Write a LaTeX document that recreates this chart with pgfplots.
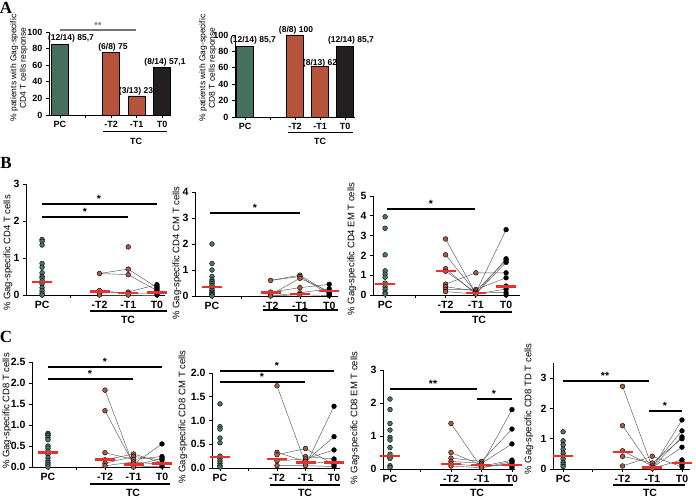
\documentclass[border=0pt]{standalone}
\usepackage{fontspec}
\setmainfont{Liberation Sans}
\newfontfamily\letterfont{Liberation Serif}
\usepackage{pgfplots}
\pgfplotsset{compat=1.18}

\definecolor{pcg}{HTML}{4B7565}
\definecolor{tcb}{HTML}{A85A45}
\definecolor{barg}{HTML}{456F5F}
\definecolor{baro}{HTML}{B5533B}
\definecolor{bark}{HTML}{231F20}
\definecolor{medr}{HTML}{E8302C}

\pgfplotsset{
  base/.style={scale only axis, anchor=south west, axis lines=left,
    axis line style={-, line width=0.9pt}, tick align=outside, tick pos=left,
    major tick length=3pt, tick style={black, line width=0.8pt},
    xtick={0,1,2,3,4}, xticklabels={PC,,-T2,-T1,T0}, ymin=0, clip=false,
    /pgf/number format/assume math mode=true},
  scat/.style={base, tick label style={font=\fontsize{10.5}{11}\selectfont\bfseries}},
  onedec/.style={yticklabel style={/pgf/number format/.cd, fixed, fixed zerofill, precision=1}},
  pc/.style={only marks, mark=*, mark size=2.4pt, mark options={draw=none, fill=pcg}},
  tc/.style={only marks, mark=*, mark size=2.4pt, mark options={draw=none, fill=tcb}},
  tz/.style={only marks, mark=*, mark size=2.4pt, mark options={draw=none, fill=black}},
  med/.style={only marks, mark=-, mark size=10pt, mark options={draw=medr, line width=2.4pt}},
  pl/.style={black!65, line width=0.45pt, mark=none},
}

\begin{document}
\begin{tikzpicture}
\useasboundingbox (0,0) rectangle (696pt,499pt);

% ---------- A left: CD4 response
\begin{axis}[base, tick label style={font=\fontsize{9}{10}\selectfont\bfseries},
  at={(49pt,384pt)}, width=121pt, height=83pt, xmin=-0.43, xmax=4.31,
  ymax=100, ytick={0,20,...,100}, ybar, bar width=17pt, bar shift=0pt]
\addplot[fill=barg, draw=black, line width=0.5pt] coordinates {(0,85.7)};
\addplot[fill=baro, draw=black, line width=0.5pt] coordinates {(2,75) (3,23)};
\addplot[fill=bark, draw=black, line width=0.5pt] coordinates {(4,57.1)};
\end{axis}

% ---------- A right: CD8 response
\begin{axis}[base, tick label style={font=\fontsize{9}{10}\selectfont\bfseries},
  at={(235pt,382pt)}, width=120pt, height=82pt, xmin=-0.4, xmax=4.4,
  ymax=100, ytick={0,20,...,100}, ybar, bar width=17pt, bar shift=0pt]
\addplot[fill=barg, draw=black, line width=0.5pt] coordinates {(0,85.7)};
\addplot[fill=baro, draw=black, line width=0.5pt] coordinates {(2,100) (3,62)};
\addplot[fill=bark, draw=black, line width=0.5pt] coordinates {(4,85.7)};
\end{axis}

% ---------- B1: CD4 T cells
\begin{axis}[scat, at={(26pt,204pt)}, width=139pt, height=111pt,
  xmin=-0.56, xmax=4.28, ymax=3, ytick={0,1,2,3}]
\addplot[pl] coordinates {(2,0.58) (3,0.7) (4,0.2)};
\addplot[pl] coordinates {(2,0.58) (3,0.55) (4,0.12)};
\addplot[pl] coordinates {(2,0.12) (3,0.04) (4,0.04)};
\addplot[pl] coordinates {(2,0.05) (3,0.08) (4,0.28)};
\addplot[pl] coordinates {(2,0) (3,0) (4,0)};
\addplot[pc] coordinates {(0,1.5)(0,1.45)(0,1.35)(0,0.85)(0,0.75)(0,0.6)(0,0.5)(0,0.45)(0,0.38)(0,0.3)(0,0.2)(0,0.12)(0,0.05)(0,0)};
\addplot[tc] coordinates {(2,0.58)(2,0.12)(2,0.05)(2,0)(3,1.3)(3,0.7)(3,0.55)(3,0.08)(3,0.04)(3,0)};
\addplot[tz] coordinates {(4,0.28)(4,0.24)(4,0.2)(4,0.16)(4,0.12)(4,0.08)(4,0.04)(4,0)};
\addplot[med] coordinates {(0,0.35)(2,0.1)(3,0.05)(4,0.07)};
\end{axis}

% ---------- B2: CD4 CM T cells
\begin{axis}[scat, at={(195pt,203pt)}, width=143pt, height=104pt,
  xmin=-0.58, xmax=4.3, ymax=4, ytick={0,1,2,3,4}]
\addplot[pl] coordinates {(2,0.6) (3,0.8) (4,0.12)};
\addplot[pl] coordinates {(2,0.6) (3,0.75) (4,0.06)};
\addplot[pl] coordinates {(2,0.15) (3,0.32) (4,0.45)};
\addplot[pl] coordinates {(2,0.05) (3,0.68) (4,0.18)};
\addplot[pl] coordinates {(2,0) (3,0.12) (4,0.28)};
\addplot[pl] coordinates {(2,0) (3,0.05) (4,0.02)};
\addplot[pc] coordinates {(0,2.0)(0,1.25)(0,1.0)(0,0.75)(0,0.62)(0,0.55)(0,0.48)(0,0.4)(0,0.3)(0,0.22)(0,0.15)(0,0.1)(0,0.05)(0,0)};
\addplot[tc] coordinates {(2,0.6)(2,0.15)(2,0.05)(2,0)(3,0.8)(3,0.75)(3,0.68)(3,0.32)(3,0.12)(3,0.05)};
\addplot[tz] coordinates {(4,0.45)(4,0.28)(4,0.18)(4,0.12)(4,0.06)(4,0.02)};
\addplot[med] coordinates {(0,0.35)(2,0.13)(3,0.08)(4,0.2)};
\end{axis}

% ---------- B3: CD4 EM T cells
\begin{axis}[scat, at={(373pt,204pt)}, width=147pt, height=99pt,
  xmin=-0.4, xmax=4.46, ymax=5, ytick={0,1,2,3,4,5}]
\addplot[pl] coordinates {(2,2.83) (3,0.07) (4,1.83)};
\addplot[pl] coordinates {(2,2.03) (3,0.13) (4,3.3)};
\addplot[pl] coordinates {(2,1.33) (3,0.05) (4,1.65)};
\addplot[pl] coordinates {(2,0.55) (3,1.12) (4,1.12)};
\addplot[pl] coordinates {(2,0.42) (3,0.2) (4,1.75)};
\addplot[pl] coordinates {(2,0.28) (3,0.28) (4,0.87)};
\addplot[pl] coordinates {(2,0.17) (3,0.05) (4,0.3)};
\addplot[pl] coordinates {(2,1.2) (3,0.13) (4,0.12)};
\addplot[pc] coordinates {(0,3.95)(0,3.37)(0,2.03)(0,1.22)(0,1.05)(0,0.9)(0,0.6)(0,0.42)(0,0.28)(0,0.12)(0,0.05)};
\addplot[tc] coordinates {(2,2.83)(2,2.03)(2,1.33)(2,1.2)(2,0.55)(2,0.42)(2,0.28)(2,0.17)(3,1.12)(3,0.28)(3,0.2)(3,0.13)(3,0.07)(3,0.05)};
\addplot[tz] coordinates {(4,3.3)(4,1.83)(4,1.75)(4,1.65)(4,1.12)(4,0.87)(4,0.45)(4,0.3)(4,0.12)(4,0)};
\addplot[med] coordinates {(0,0.55)(2,1.2)(3,0.1)(4,0.42)};
\end{axis}

% ---------- C1: CD8 T cells
\begin{axis}[scat, onedec, at={(32pt,32pt)}, width=138pt, height=105pt,
  xmin=-0.56, xmax=4.28, ymax=2.5, ytick={0,0.5,1,1.5,2,2.5}]
\addplot[pl] coordinates {(2,1.83) (3,0.03) (4,0.21)};
\addplot[pl] coordinates {(2,1.34) (3,0.07) (4,0.55)};
\addplot[pl] coordinates {(2,0.34) (3,0.18) (4,0.25)};
\addplot[pl] coordinates {(2,0.17) (3,0.31) (4,0.1)};
\addplot[pl] coordinates {(2,0.09) (3,0.25) (4,0.17)};
\addplot[pl] coordinates {(2,0.03) (3,0.12) (4,0.06)};
\addplot[pl] coordinates {(3,0) (4,0.02)};
\addplot[pc] coordinates {(0,0.8)(0,0.78)(0,0.75)(0,0.7)(0,0.65)(0,0.5)(0,0.45)(0,0.38)(0,0.3)(0,0.22)(0,0.15)(0,0.1)(0,0.05)(0,0)};
\addplot[tc] coordinates {(2,1.83)(2,1.34)(2,0.34)(2,0.17)(2,0.09)(2,0.03)(3,0.31)(3,0.25)(3,0.18)(3,0.12)(3,0.07)(3,0.03)(3,0)};
\addplot[tz] coordinates {(4,0.55)(4,0.25)(4,0.21)(4,0.17)(4,0.1)(4,0.06)(4,0.02)};
\addplot[med] coordinates {(0,0.35)(2,0.18)(3,0.06)(4,0.08)};
\end{axis}

% ---------- C2: CD8 CM T cells
\begin{axis}[scat, onedec, at={(212pt,31pt)}, width=128pt, height=95pt,
  xmin=-0.28, xmax=4.21, ymax=2, ytick={0,0.5,1,1.5,2}]
\addplot[pl] coordinates {(2,1.73) (3,0.09) (4,0.14)};
\addplot[pl] coordinates {(2,0.05) (3,0.05) (4,1.3)};
\addplot[pl] coordinates {(2,0.28) (3,0.41) (4,0.07)};
\addplot[pl] coordinates {(2,0.33) (3,0.14) (4,0.66)};
\addplot[pl] coordinates {(2,0.15) (3,0.19) (4,0.38)};
\addplot[pl] coordinates {(3,0.24) (4,0.19)};
\addplot[pl] coordinates {(3,0.05) (4,0.03)};
\addplot[pc] coordinates {(0,1.35)(0,0.87)(0,0.82)(0,0.63)(0,0.53)(0,0.25)(0,0.2)(0,0.15)(0,0.1)(0,0.05)(0,0.02)};
\addplot[tc] coordinates {(2,1.73)(2,0.33)(2,0.28)(2,0.15)(2,0.05)(3,0.41)(3,0.24)(3,0.19)(3,0.14)(3,0.09)(3,0.05)};
\addplot[tz] coordinates {(4,1.3)(4,0.66)(4,0.38)(4,0.19)(4,0.14)(4,0.11)(4,0.07)(4,0.03)};
\addplot[med] coordinates {(0,0.23)(2,0.19)(3,0.12)(4,0.12)};
\end{axis}

% ---------- C3: CD8 EM T cells
\begin{axis}[scat, at={(383pt,30pt)}, width=132pt, height=99pt,
  xmin=-0.23, xmax=4.1, ymax=3, ytick={0,1,2,3}]
\addplot[pl] coordinates {(2,1.38) (3,0.04) (4,0.18)};
\addplot[pl] coordinates {(2,0.5) (3,0.12) (4,1.8)};
\addplot[pl] coordinates {(2,0.33) (3,0.23) (4,1.21)};
\addplot[pl] coordinates {(2,0.23) (3,0.17) (4,0.76)};
\addplot[pl] coordinates {(2,0.16) (3,0.08) (4,0.27)};
\addplot[pl] coordinates {(2,0.09) (3,0.04) (4,0.23)};
\addplot[pl] coordinates {(3,0.12) (4,0.09)};
\addplot[pc] coordinates {(0,2.12)(0,1.8)(0,1.38)(0,1.18)(0,0.96)(0,0.88)(0,0.65)(0,0.45)(0,0.35)(0,0.32)(0,0.1)(0,0.05)};
\addplot[tc] coordinates {(2,1.38)(2,0.5)(2,0.33)(2,0.23)(2,0.16)(2,0.09)(3,0.23)(3,0.17)(3,0.12)(3,0.08)(3,0.04)};
\addplot[tz] coordinates {(4,1.8)(4,1.21)(4,0.76)(4,0.27)(4,0.23)(4,0.18)(4,0.09)(4,0.04)};
\addplot[med] coordinates {(0,0.4)(2,0.16)(3,0.13)(4,0.13)};
\end{axis}

% ---------- C4: CD8 TD T cells
\begin{axis}[scat, at={(553pt,30pt)}, width=137pt, height=106pt,
  xmin=-0.34, xmax=4.27, ymax=3.5, ytick={0,1,2,3}]
\addplot[pl] coordinates {(2,2.73) (3,0.05) (4,1.06)};
\addplot[pl] coordinates {(2,1.43) (3,0.02) (4,1.62)};
\addplot[pl] coordinates {(2,0.6) (3,0.1) (4,1.26)};
\addplot[pl] coordinates {(2,0.42) (3,0.2) (4,1.0)};
\addplot[pl] coordinates {(2,0.1) (3,0.42) (4,0.07)};
\addplot[pl] coordinates {(3,0.05) (4,0.72)};
\addplot[pl] coordinates {(3,0.02) (4,0.3)};
\addplot[pc] coordinates {(0,1.23)(0,0.93)(0,0.8)(0,0.65)(0,0.52)(0,0.42)(0,0.33)(0,0.22)(0,0.15)(0,0.08)};
\addplot[tc] coordinates {(2,2.73)(2,1.43)(2,0.6)(2,0.42)(2,0.1)(3,0.42)(3,0.2)(3,0.1)(3,0.05)(3,0.02)};
\addplot[tz] coordinates {(4,1.62)(4,1.26)(4,1.06)(4,1.0)(4,0.72)(4,0.3)(4,0.23)(4,0.15)(4,0.07)};
\addplot[med] coordinates {(0,0.42)(2,0.57)(3,0.05)(4,0.2)};
\end{axis}

% ---------- panel letters
\node[font=\letterfont\bfseries\fontsize{17}{17}\selectfont] at (6pt,491pt) {A};
\node[font=\letterfont\bfseries\fontsize{17}{17}\selectfont] at (6pt,336pt) {B};
\node[font=\letterfont\bfseries\fontsize{17}{17}\selectfont] at (6pt,162pt) {C};

% ---------- A annotations
\begin{scope}[font=\fontsize{8.5}{9.5}\selectfont\bfseries]
\node at (71pt,461pt) {(12/14) 85,7};
\node at (113pt,452pt) {(6/8) 75};
\node at (136pt,408pt) {(3/13) 23};
\node at (165pt,437pt) {(8/14) 57,1};
\node at (253pt,459pt) {(12/14) 85,7};
\node at (296pt,469pt) {(8/8) 100};
\node at (320pt,436pt) {(8/13) 62};
\node at (351pt,459pt) {(12/14) 85,7};
\end{scope}
\draw[black!55, line width=1.3pt] (60pt,469pt) -- (136pt,469pt);
\node[black!55, anchor=south, inner sep=0.5pt, font=\fontsize{9}{10}\selectfont\bfseries] at (98pt,469.5pt) {**};
\node[rotate=90, align=center, font=\fontsize{8.5}{9.5}\selectfont] at (19pt,431pt) {\% patients with Gag-specific\\CD4 T cells response};
\node[rotate=90, align=center, font=\fontsize{8.5}{9.5}\selectfont] at (208pt,431pt) {\% patients with Gag-specific\\CD8 T cells response};
\draw[line width=0.9pt] (103pt,368pt) -- (167pt,368pt);
\node[font=\fontsize{9}{10}\selectfont\bfseries] at (136pt,358pt) {TC};
\draw[line width=0.9pt] (288pt,367pt) -- (353pt,367pt);
\node[font=\fontsize{9}{10}\selectfont\bfseries] at (320pt,358pt) {TC};

% ---------- B and C y labels
\begin{scope}[font=\fontsize{9.5}{10.5}\selectfont]
\node[rotate=90] at (8pt,246pt) {\% Gag-specific CD4 T cells};
\node[rotate=90] at (177pt,246pt) {\% Gag-specific CD4 CM T cells};
\node[rotate=90] at (352pt,250pt) {\% Gag-specific CD4 EM T cells};
\node[rotate=90] at (7pt,88pt) {\% Gag-specific CD8 T cells};
\node[rotate=90] at (183pt,82pt) {\% Gag-specific CD8 CM T cells};
\node[rotate=90] at (355pt,81pt) {\% Gag-specific CD8 EM T cells};
\node[rotate=90] at (529pt,90pt) {\% Gag-specific CD8 TD T cells};
\end{scope}

% ---------- significance bars
\begin{scope}[line width=1.2pt]
\draw (42pt,295pt) -- (157pt,295pt);
\draw (42pt,282pt) -- (128pt,282pt);
\draw (210pt,286pt) -- (300pt,286pt);
\draw (387pt,290pt) -- (475pt,290pt);
\draw (48pt,132pt) -- (162pt,132pt);
\draw (48pt,120pt) -- (133pt,120pt);
\draw (220pt,128pt) -- (334pt,128pt);
\draw (220pt,117pt) -- (305pt,117pt);
\draw (390pt,110pt) -- (477pt,110pt);
\draw (477pt,100pt) -- (512pt,100pt);
\draw (563pt,118pt) -- (649pt,118pt);
\draw (649pt,88pt) -- (682pt,88pt);
\end{scope}
\begin{scope}[every node/.style={anchor=south, inner sep=0.5pt, font=\fontsize{10.5}{11}\selectfont\bfseries}]
\node at (99pt,295.5pt) {*};
\node at (85pt,282.5pt) {*};
\node at (255pt,286.5pt) {*};
\node at (431pt,290.5pt) {*};
\node at (105pt,132.5pt) {*};
\node at (90pt,120.5pt) {*};
\node at (277pt,128.5pt) {*};
\node at (262pt,117.5pt) {*};
\node at (433pt,110.5pt) {**};
\node at (494pt,100.5pt) {*};
\node at (605pt,118.5pt) {**};
\node at (665pt,88.5pt) {*};
\end{scope}

% ---------- TC underlines
\begin{scope}[line width=1.2pt]
\draw (90pt,188pt) -- (167pt,188pt);
\draw (263pt,189pt) -- (338pt,189pt);
\draw (440pt,187pt) -- (512pt,187pt);
\draw (90pt,15pt) -- (170pt,15pt);
\draw (270pt,14pt) -- (340pt,14pt);
\draw (440pt,14pt) -- (513pt,14pt);
\draw (613pt,14pt) -- (685pt,14pt);
\end{scope}
\begin{scope}[every node/.style={font=\fontsize{10.5}{11}\selectfont\bfseries}]
\node at (128pt,179pt) {TC};
\node at (301pt,180pt) {TC};
\node at (479pt,179pt) {TC};
\node at (133pt,6pt) {TC};
\node at (305pt,6pt) {TC};
\node at (477pt,6pt) {TC};
\node at (650pt,6pt) {TC};
\end{scope}
\end{tikzpicture}
\end{document}
